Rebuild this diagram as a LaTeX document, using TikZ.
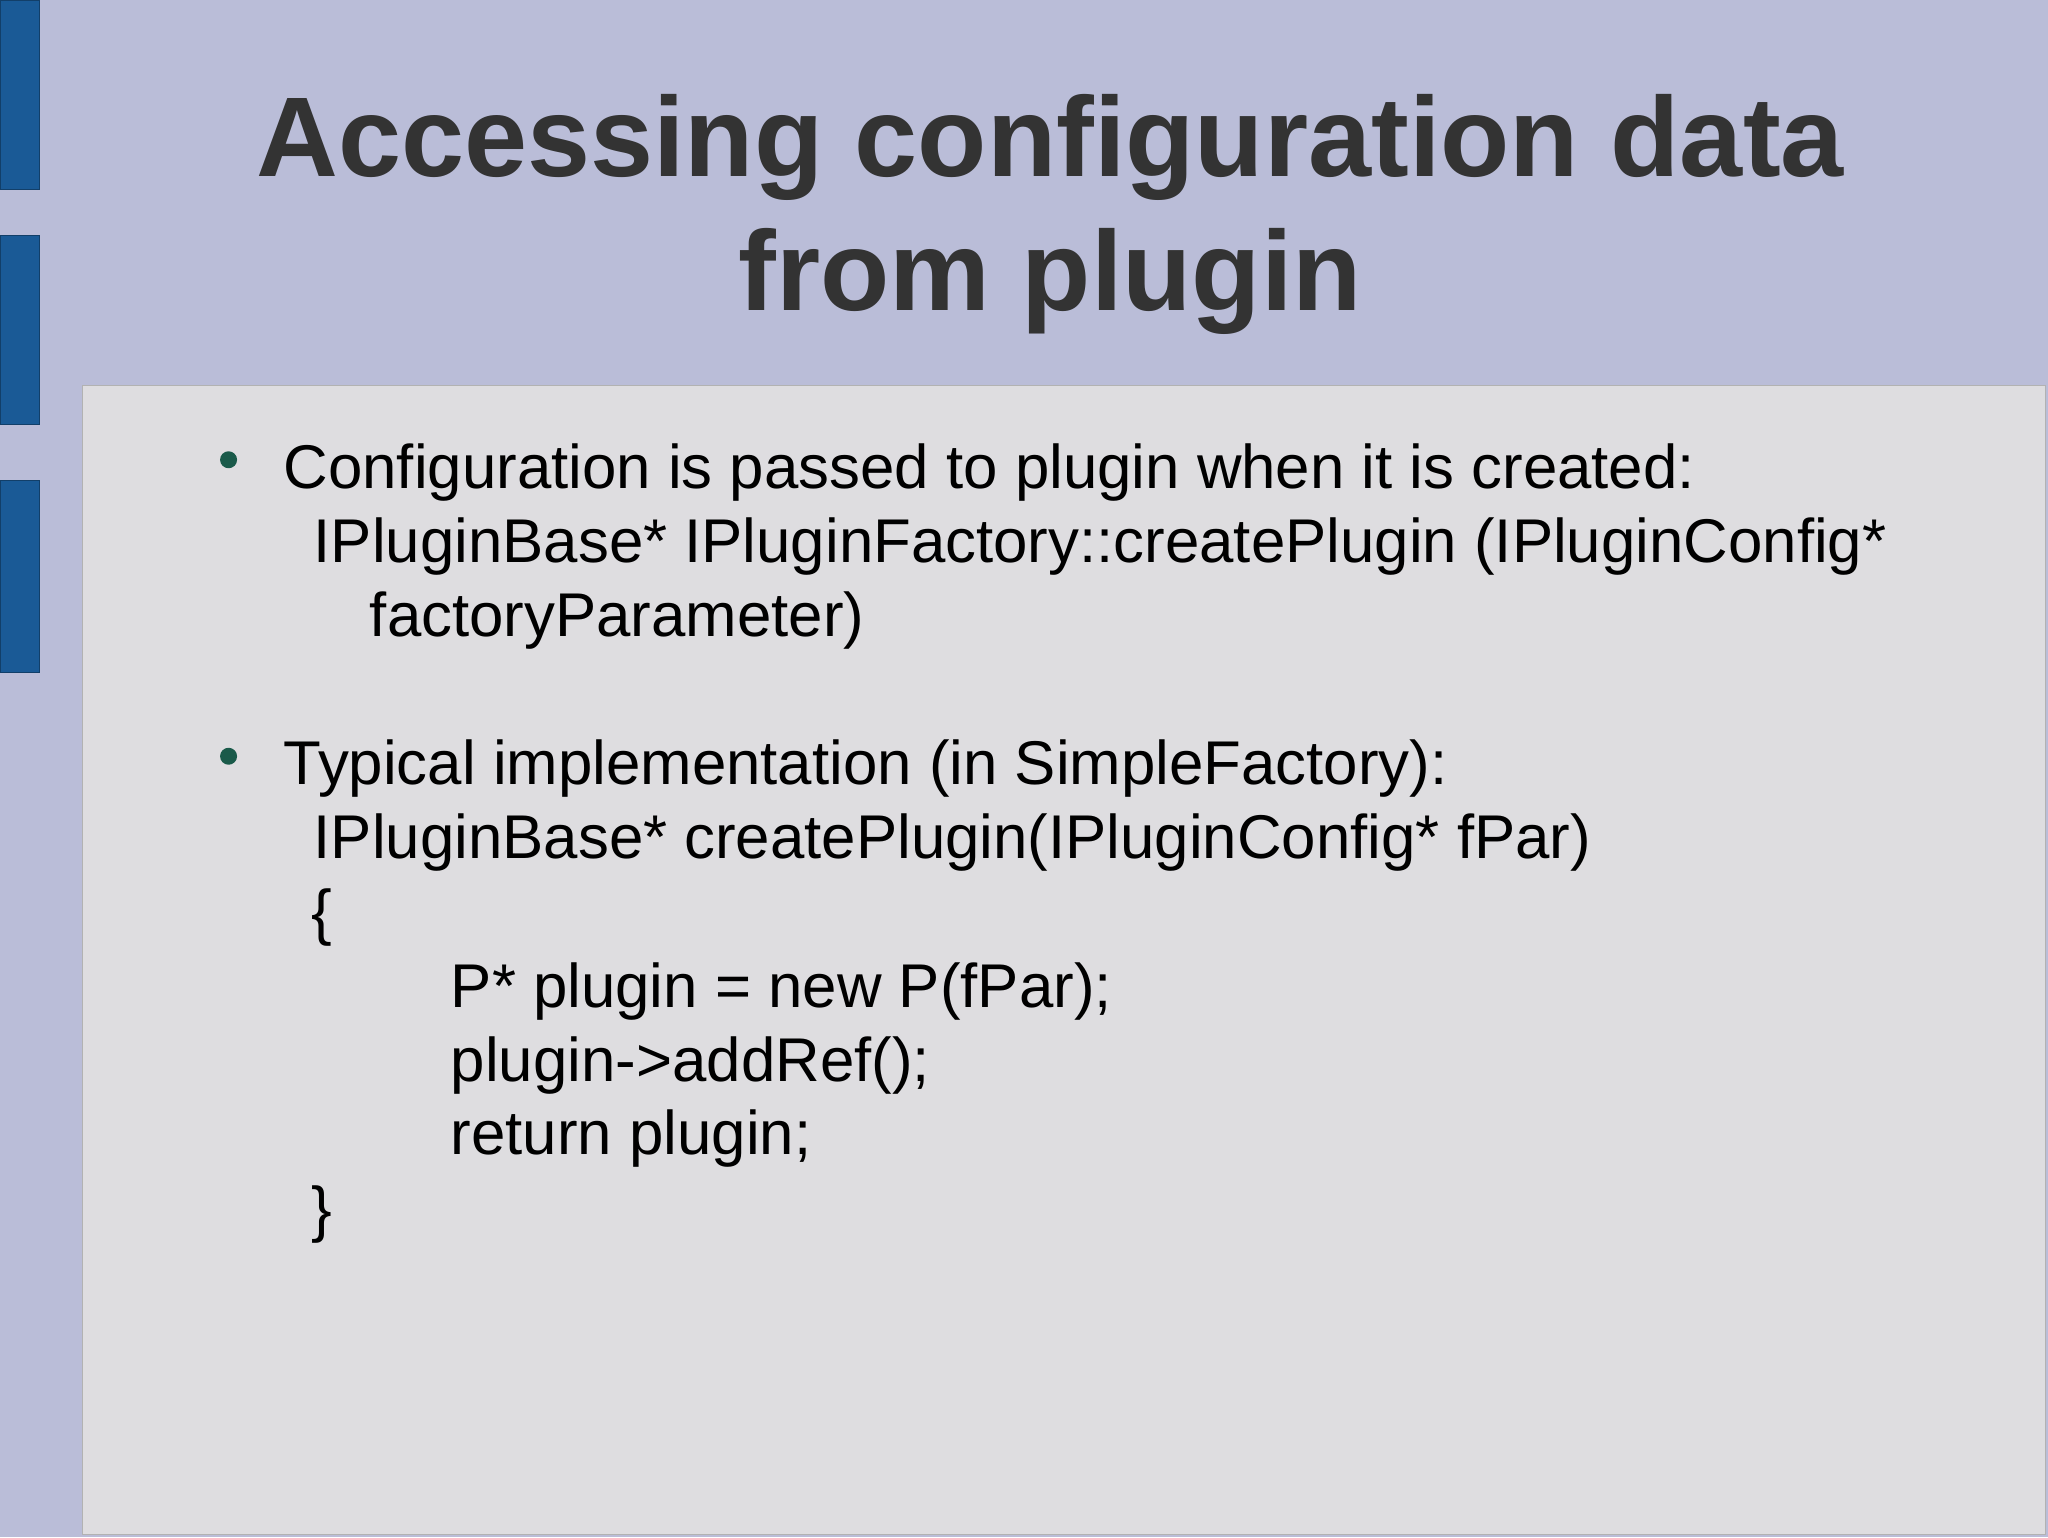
\documentclass[tikz,border=0pt]{standalone}
\usepackage{fontspec}
\setmainfont{Liberation Sans}
\definecolor{topbg}{HTML}{BABDD8}
\definecolor{panel}{HTML}{DEDDE0}
\definecolor{barblue}{HTML}{1A5A96}
\definecolor{dotgreen}{HTML}{1A5A4A}
\definecolor{titlec}{HTML}{333333}
\begin{document}
\begin{tikzpicture}[x=1pt,y=-1pt,
  body/.style={anchor=base west,inner sep=0pt,font=\fontsize{47.3}{54}\selectfont,text=black},
  ttl/.style={anchor=base,inner sep=0pt,font=\fontsize{86.8}{100}\selectfont\bfseries,text=titlec},
  bar/.style={fill=barblue,draw=barblue!70!black},
  dot/.style={circle,fill=dotgreen,inner sep=0pt,minimum size=13pt}]
\useasboundingbox (0,0) rectangle (1568,1177);
\fill[topbg] (0,0) rectangle (1568,1177);
\fill[panel,draw=gray!60] (63,295) rectangle (1566,1175);
\fill[bar] (0,0) rectangle (30,145);
\fill[bar] (0,180) rectangle (30,325);
\fill[bar] (0,368) rectangle (30,515);
\node[ttl] (t1) at (804,135) {Accessing configuration data};
\node[ttl] (t2) at (804,238) {from plugin};
\node[dot] (d1) at (175,352) {};
\node[dot] (d2) at (175,579) {};
\node[body] (l1) at (217,374) {Configuration is passed to plugin when it is created:};
\node[body] (l2) at (240,431) {IPluginBase* IPluginFactory::createPlugin (IPluginConfig*};
\node[body] (l3) at (283,487) {factoryParameter)};
\node[body] (l4) at (217,601) {Typical implementation (in SimpleFactory):};
\node[body] (l5) at (240,657) {IPluginBase* createPlugin(IPluginConfig* fPar)};
\node[body] (l6) at (238,715) {\{};
\node[body] (l7) at (345,771) {P* plugin = new P(fPar);};
\node[body] (l8) at (345,828) {plugin->addRef();};
\node[body] (l9) at (345,884) {return plugin;};
\node[body] (l10) at (238,942) {\}};
\end{tikzpicture}
\end{document}
